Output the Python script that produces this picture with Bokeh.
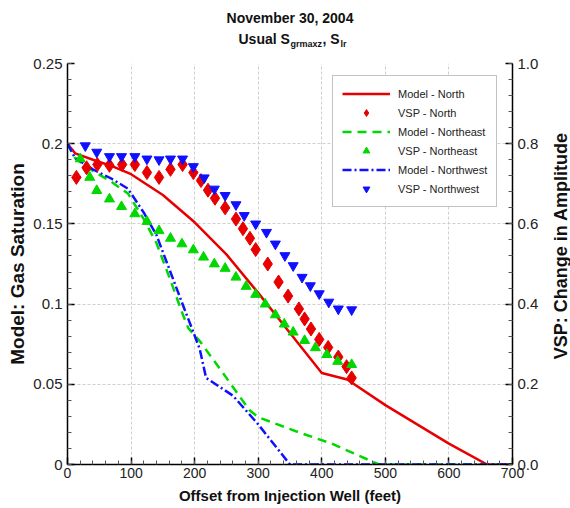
import numpy as np
from bokeh.plotting import figure
from bokeh.layouts import column, row
from bokeh.models import Range1d, LinearAxis, FixedTicker, Legend, LegendItem
from bokeh.core.properties import value
from bokeh.embed import file_html
from bokeh.resources import INLINE

# ---------------- data ----------------
title_line1 = "November 30, 2004"
title_line2 = ["Usual S", "grmaxz", ", S", "lr"]   # normal, subscript, normal, subscript
x_label = "Offset from Injection Well (feet)"
y_label = "Model: Gas Saturation"
y2_label = "VSP: Change in Amplitude"

offset_ticks = [0, 100, 200, 300, 400, 500, 600, 700]
sat_ticks = [0, 0.05, 0.1, 0.15, 0.2, 0.25]
sat_tick_labels = ["0", "0.05", "0.1", "0.15", "0.2", "0.25"]
amp_ticks = [0, 0.2, 0.4, 0.6, 0.8, 1.0]
amp_tick_labels = ["0.0", "0.2", "0.4", "0.6", "0.8", "1.0"]

model_north_x = [0, 12, 40, 70, 100, 150, 200, 250, 300, 350, 400, 440, 500, 600, 660, 700]
model_north_y = [0.2, 0.194, 0.19, 0.186, 0.181, 0.168, 0.151, 0.131, 0.107, 0.082,
                 0.057, 0.053, 0.037, 0.013, 0.0, 0.0]

model_ne_x = [0, 12, 40, 70, 95, 120, 140, 160, 180, 190, 208, 250, 286, 300, 364, 416, 452, 490, 700]
model_ne_y = [0.2, 0.191, 0.183, 0.176, 0.169, 0.153, 0.138, 0.117, 0.095, 0.085, 0.077,
              0.054, 0.034, 0.0295, 0.020, 0.013, 0.0066, 0.0, 0.0]

model_nw_x = [0, 12, 40, 70, 95, 120, 140, 160, 180, 197, 208, 218, 260, 300, 350, 700]
model_nw_y = [0.2, 0.191, 0.184, 0.178, 0.172, 0.157, 0.143, 0.122, 0.101, 0.0835, 0.072,
              0.054, 0.043, 0.025, 0.0, 0.0]

vsp_north_x = [14, 30, 47, 66, 86, 106, 125, 144, 162, 181, 198, 210, 221, 232, 248, 265,
               276, 287, 296, 315, 332, 347, 364, 373, 383, 396, 410, 426, 439, 447]
vsp_north_y = [0.716, 0.74, 0.748, 0.746, 0.748, 0.748, 0.728, 0.716, 0.736, 0.748, 0.728,
               0.708, 0.684, 0.664, 0.64, 0.612, 0.588, 0.564, 0.536, 0.50, 0.455, 0.42,
               0.388, 0.363, 0.338, 0.312, 0.292, 0.268, 0.244, 0.216]

vsp_ne_x = [20, 35, 46, 66, 85, 106, 125, 144, 162, 180, 198, 214, 231, 248, 265, 281, 296,
            311, 327, 341, 355, 373, 390, 408, 425, 447]
vsp_ne_y = [0.762, 0.716, 0.683, 0.662, 0.643, 0.625, 0.606, 0.583, 0.564, 0.55, 0.535,
            0.517, 0.5, 0.489, 0.467, 0.444, 0.424, 0.40, 0.373, 0.35, 0.33, 0.309, 0.291,
            0.274, 0.257, 0.249]

vsp_nw_x = [28, 46, 66, 85, 106, 125, 144, 162, 181, 198, 215, 231, 248, 265, 278, 296, 313,
            327, 342, 355, 369, 382, 396, 411, 426, 447]
vsp_nw_y = [0.795, 0.779, 0.768, 0.768, 0.768, 0.762, 0.76, 0.762, 0.762, 0.743, 0.715,
            0.687, 0.671, 0.648, 0.621, 0.60, 0.579, 0.55, 0.521, 0.496, 0.467, 0.446,
            0.426, 0.405, 0.388, 0.386]

# ---------------- style ----------------
FONT = "Liberation Sans"
RED = "#e80000"
GREEN = "#00d800"
BLUE = "#1010ff"

TOTAL_W = 568
TITLE_H = 55
MAIN_L, FRAME_W, MAIN_R = 67, 445, 26
FRAME_H, MAIN_T, MAIN_B = 401, 8, 43
MAIN_W = MAIN_L + FRAME_W + MAIN_R
MAIN_H = MAIN_T + FRAME_H + MAIN_B
SIDE_W = TOTAL_W - MAIN_W


def blank(w, h):
    f = figure(width=w, height=h, output_backend="svg", toolbar_location=None,
               x_range=Range1d(0, w), y_range=Range1d(0, h),
               min_border=0, min_border_left=0, min_border_right=0,
               min_border_top=0, min_border_bottom=0)
    f.axis.visible = False
    f.grid.visible = False
    f.outline_line_color = None
    return f


# ---------------- title strip ----------------
t = blank(TOTAL_W, TITLE_H)
t.text(x=[MAIN_L + FRAME_W / 2], y=[TITLE_H - 17], text=[title_line1],
       text_font=value(FONT), text_font_style="bold", text_font_size="14px",
       text_align="center", text_baseline="middle", text_color="#111111")
t.text(x=[238, 322], y=[TITLE_H - 38, TITLE_H - 38], text=[title_line2[0], title_line2[2]],
       text_font=value(FONT), text_font_style="bold", text_font_size="14px",
       text_align="left", text_baseline="middle", text_color="#111111")
t.text(x=[290, 340], y=[TITLE_H - 43, TITLE_H - 43], text=[title_line2[1], title_line2[3]],
       text_font=value(FONT), text_font_style="bold", text_font_size="9px",
       text_align="left", text_baseline="middle", text_color="#111111")

# ---------------- main plot ----------------
p = figure(frame_width=FRAME_W, frame_height=FRAME_H, output_backend="svg", toolbar_location=None,
           x_range=Range1d(0, 700), y_range=Range1d(0, 0.25),
           min_border_left=MAIN_L, min_border_right=MAIN_R,
           min_border_top=MAIN_T, min_border_bottom=MAIN_B,
           x_axis_label=x_label, y_axis_label=y_label)
p.extra_y_ranges = {"amp": Range1d(0, 1.0)}
p.outline_line_color = None

p.xaxis.ticker = FixedTicker(ticks=offset_ticks, minor_ticks=list(np.arange(0, 701, 20)))
p.yaxis.ticker = FixedTicker(ticks=sat_ticks, minor_ticks=list(np.round(np.arange(0, 0.2501, 0.01), 3)))
p.yaxis.major_label_overrides = {tk: s for tk, s in zip(sat_ticks, sat_tick_labels)}

right = LinearAxis(y_range_name="amp",
                   ticker=FixedTicker(ticks=amp_ticks, minor_ticks=list(np.round(np.arange(0, 1.0001, 0.04), 3))))
right.major_label_overrides = {tk: s for tk, s in zip(amp_ticks, amp_tick_labels)}
p.add_layout(right, "right")

for ax in [p.xaxis[0], p.yaxis[0], right]:
    ax.axis_line_color = "black"
    ax.axis_line_width = 1.5
    ax.major_tick_in = 7
    ax.major_tick_out = 0
    ax.minor_tick_in = 4
    ax.minor_tick_out = 0
    ax.major_tick_line_color = "black"
    ax.major_tick_line_width = 1.5
    ax.minor_tick_line_color = "#555555"
    ax.major_label_text_font = FONT
    ax.major_label_text_color = "#222222"
    ax.axis_label_text_font = FONT
    ax.axis_label_text_font_style = "bold"
    ax.axis_label_text_color = "#111111"

p.xaxis.major_label_text_font_size = "14px"
p.xaxis.major_label_standoff = 3
p.xaxis.axis_label_text_font_size = "15px"
p.xaxis.axis_label_standoff = 6
p.yaxis.major_label_text_font_size = "15px"
p.yaxis.major_label_standoff = 5
p.yaxis.axis_label_text_font_size = "19px"
p.yaxis.axis_label_standoff = 2
right.major_label_text_font_size = "15px"
right.major_label_standoff = 5

for g in [p.xgrid[0], p.ygrid[0]]:
    g.grid_line_color = "#cfcfcf"
    g.grid_line_dash = "3 2"
    g.grid_line_width = 1

r_mn = p.line(model_north_x, model_north_y, line_color=RED, line_width=2.5)
r_mne = p.line(model_ne_x, model_ne_y, line_color=GREEN, line_width=2.5, line_dash="9 6")
r_mnw = p.line(model_nw_x, model_nw_y, line_color=BLUE, line_width=2.5, line_dash="9 3 2 3")

r_vn = p.scatter(vsp_north_x, vsp_north_y, marker="diamond", size=14, fill_color=RED,
                 line_color=RED, y_range_name="amp")
r_vne = p.scatter(vsp_ne_x, vsp_ne_y, marker="triangle", size=10, fill_color=GREEN,
                  line_color=GREEN, y_range_name="amp")
r_vnw = p.scatter(vsp_nw_x, vsp_nw_y, marker="inverted_triangle", size=10, fill_color=BLUE,
                  line_color=BLUE, y_range_name="amp")

legend = Legend(items=[
    LegendItem(label="Model - North", renderers=[r_mn]),
    LegendItem(label="VSP - North", renderers=[r_vn]),
    LegendItem(label="Model - Northeast", renderers=[r_mne]),
    LegendItem(label="VSP - Northeast", renderers=[r_vne]),
    LegendItem(label="Model - Northwest", renderers=[r_mnw]),
    LegendItem(label="VSP - Northwest", renderers=[r_vnw]),
], location=(265, 257))
legend.label_text_font = FONT
legend.label_text_font_size = "11px"
legend.label_text_color = "#222222"
legend.glyph_width = 48
legend.glyph_height = 17
legend.label_height = 17
legend.label_standoff = 8
legend.spacing = 2
legend.padding = 9
legend.margin = 0
legend.border_line_color = "#888888"
legend.border_line_width = 1.5
legend.background_fill_color = "white"
legend.background_fill_alpha = 1
p.add_layout(legend, "center")

# ---------------- right axis title (reads bottom-to-top) ----------------
s = blank(SIDE_W, MAIN_H)
s.text(x=[19], y=[MAIN_H - MAIN_T - FRAME_H / 2 + 3], text=[y2_label], angle=np.pi / 2,
       text_font=value(FONT), text_font_style="bold", text_font_size="18px",
       text_align="center", text_baseline="middle", text_color="#111111")

layout = column(t, row(p, s, spacing=0), spacing=0)
open("out.html", "w").write(file_html(layout, INLINE))
